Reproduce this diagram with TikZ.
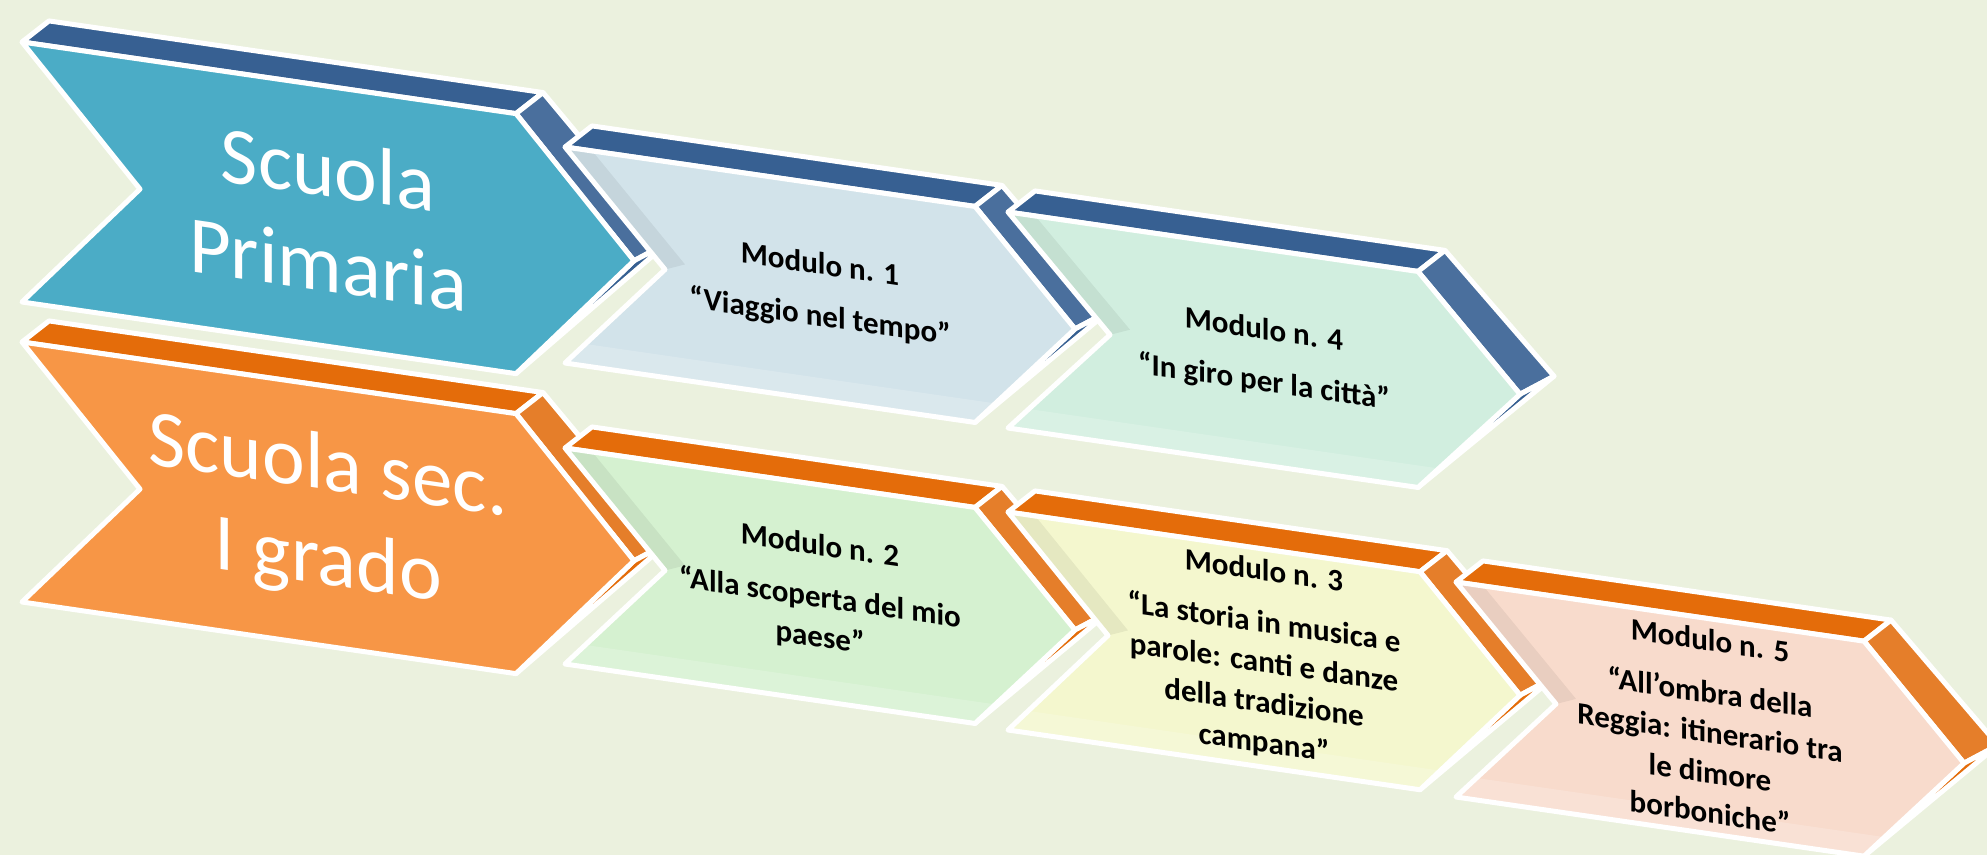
\documentclass[tikz,border=0pt]{standalone}
\usepackage{fontspec}
\setmainfont{Carlito}

\definecolor{bgcol}{HTML}{EBF1DE}
\definecolor{primFront}{HTML}{4BACC6}
\definecolor{primTop}{HTML}{376092}
\definecolor{primSide}{HTML}{4A6F9D}
\definecolor{secFront}{HTML}{F79646}
\definecolor{secTop}{HTML}{E46C0A}
\definecolor{secSide}{HTML}{E57E2A}
\definecolor{modA}{HTML}{D2E3EA}
\definecolor{modB}{HTML}{D5F1D0}
\definecolor{modC}{HTML}{F4F7CE}
\definecolor{modD}{HTML}{D1EEDF}
\definecolor{modE}{HTML}{F8DBCC}

\tikzset{
  face/.style={draw=white, line width=5pt, line join=round},
  ghost/.style={fill=black, opacity=.06},
  ghost light/.style={fill=white, opacity=.18},
  bigtext/.style={text=white, align=center, inner sep=0pt, yslant=-0.145,
    font=\fontsize{81}{95}\selectfont},
  modtext/.style={text=black, align=center, inner sep=0pt, yslant=-0.145,
    font=\bfseries\fontsize{31}{40}\selectfont}
}

% [#1 band] #2 name, #3 x, #4 y, #5 width, #6 height, #7 point, #8 front, #9 edges
\newcommand{\chevron}[9][]{%
  \begin{scope}[shift={(#3,#4)}, yslant=-0.145]
    \filldraw[face, fill=#9Top] (0,0) -- (#5,0) -- ({#5+27},-25) -- (27,-25) -- cycle;
    \filldraw[face, fill=#9Side] (#5,0) -- ({#5+#7},{#6/2}) -- ({#5+#7+34},{#6/2-23}) -- ({#5+27},-25) -- cycle;
    \filldraw[face, fill=#9Top] ({#5+#7},{#6/2}) -- ({#5+#7+34},{#6/2-23}) -- (#5,#6) -- cycle;
    \fill[#8] (0,0) -- (#5,0) -- ({#5+#7},{#6/2}) -- (#5,#6) -- (0,#6) -- (#7,{#6/2}) -- cycle;
    \ifx\relax#1\relax\else
      \fill[#1] (0,0) -- (30,3) -- ({#7+20},{#6/2-8}) -- (#7,{#6/2}) -- cycle;
      \fill[#1 light] (0,#6) -- ({0.2*#7},{#6-22}) -- ({#5+0.2*#7},{#6-22}) -- (#5,#6) -- cycle;
    \fi
    \draw[face] (0,0) -- (#5,0) -- ({#5+#7},{#6/2}) -- (#5,#6) -- (0,#6) -- (#7,{#6/2}) -- cycle;
    \coordinate (#2) at ({(#5+#7)/2},{#6/2});
  \end{scope}}

\begin{document}
\begin{tikzpicture}[x=1pt, y=-1pt]
  \useasboundingbox (0,0) rectangle (1987,855);
  \fill[bgcol] (0,0) rectangle (1987,855);

  % top row
  \chevron{prim}{22}{42}{494}{260}{118}{primFront}{prim}
  \node[bigtext] (prim-txt) at (prim) {Scuola\\Primaria};
  \chevron[ghost]{mod1}{565}{147}{410}{216}{100}{modA}{prim}
  \node[modtext] (mod1-txt) at (mod1) {Modulo n. 1\\[12pt]“Viaggio nel tempo”};
  \chevron[ghost]{mod4}{1008}{212}{410}{216}{102}{modD}{prim}
  \node[modtext] (mod4-txt) at (mod4) {Modulo n. 4\\[12pt]“In giro per la città”};

  % bottom row
  \chevron{sec}{22}{342}{494}{260}{118}{secFront}{sec}
  \node[bigtext] (sec-txt) at (sec) {Scuola sec.\\I grado};
  \chevron[ghost]{mod2}{565}{448}{410}{216}{100}{modB}{sec}
  \node[modtext] (mod2-txt) at (mod2) {Modulo n. 2\\[12pt]“Alla scoperta del mio\\paese”};
  \chevron[ghost]{mod3}{1008}{512}{412}{218}{100}{modC}{sec}
  \node[modtext] (mod3-txt) at (mod3) {Modulo n. 3\\[12pt]“La storia in musica e\\parole: canti e danze\\della tradizione\\campana”};
  \chevron[ghost]{mod5}{1456}{582}{408}{215}{100}{modE}{sec}
  \node[modtext] (mod5-txt) at (mod5) {Modulo n. 5\\[12pt]“All’ombra della\\Reggia: itinerario tra\\le dimore\\borboniche”};
\end{tikzpicture}
\end{document}
